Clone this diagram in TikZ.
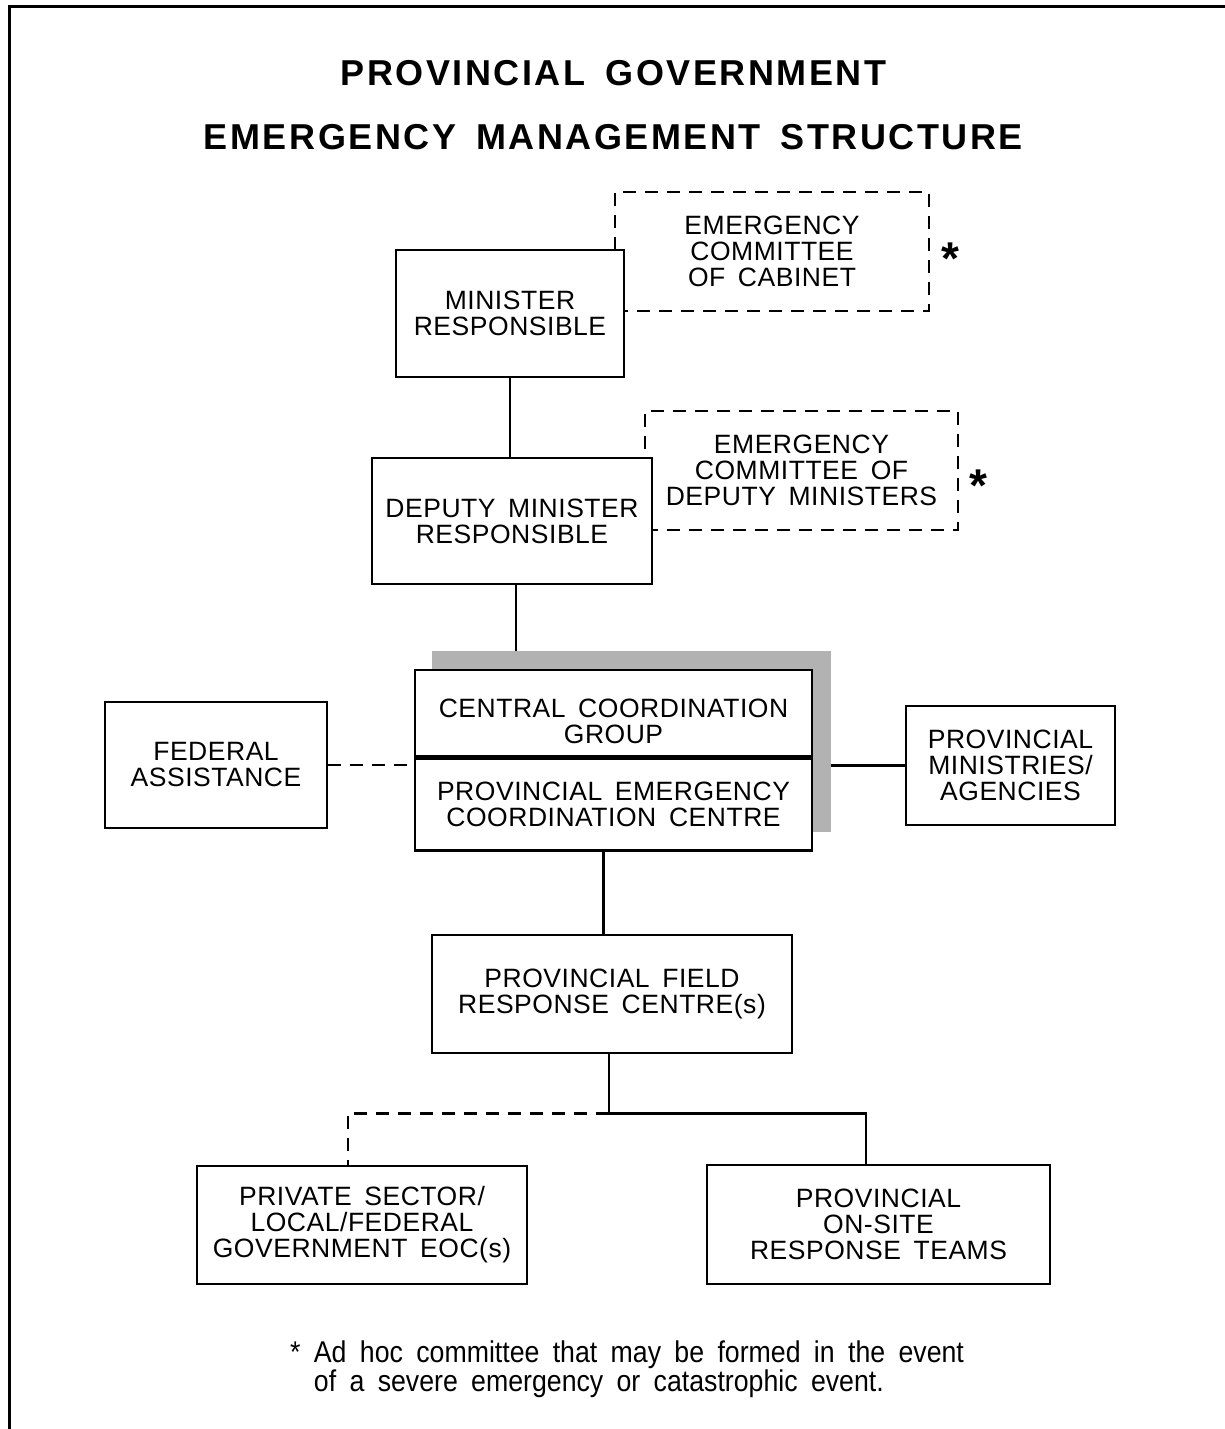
\documentclass[tikz,border=0pt]{standalone}
\usepackage{fontspec}
\setmainfont{Liberation Sans}[WordSpace=1.6]
\newfontfamily\narrowfont{Liberation Sans}[FakeStretch=0.89,WordSpace=1.8]
\usetikzlibrary{positioning,calc,backgrounds}

\newcommand{\boxfont}{\fontsize{26.5}{26}\selectfont\addfontfeature{LetterSpace=2}}
\newcommand{\titlefont}{\fontsize{36}{40}\selectfont\bfseries\addfontfeature{LetterSpace=7}}
\colorlet{shadowgray}{black!30}

\tikzset{
  box/.style={draw, line width=2.5pt, fill=white, align=center, font=\boxfont, inner sep=0pt},
  adhoc/.style={draw, line width=2.5pt, dash pattern=on 13pt off 9pt, align=center, font=\boxfont, inner sep=0pt},
  link/.style={line width=2.5pt},
  dashlink/.style={line width=2.5pt, dash pattern=on 13pt off 9pt},
}

\begin{document}
\begin{tikzpicture}[x=1pt, y=-1pt]
    \useasboundingbox (0,0) rectangle (1225,1429);
    % cadre
    \draw[line width=3pt] (9,1440) -- (9,7) -- (1240,7);
    % titre
    \node[font=\titlefont] (title1) at (613.5,73) {PROVINCIAL GOVERNMENT};
    \node[font=\titlefont] (title2) at (613.5,137) {EMERGENCY MANAGEMENT STRUCTURE};
    % comites ad hoc
    \node[adhoc, minimum width=314pt, minimum height=119pt] (ecc) at (772,251.5)
        {EMERGENCY\\COMMITTEE\\OF CABINET};
    \node[adhoc, minimum width=313pt, minimum height=119pt] (ecdm) at (801.5,470.5)
        {EMERGENCY\\COMMITTEE OF\\DEPUTY MINISTERS};
    % chaine principale
    \node[box, minimum width=228pt, minimum height=127pt] (min) at (510,313.5)
        {MINISTER\\RESPONSIBLE};
    \node[box, minimum width=280pt, minimum height=126pt] (dep) at (512,521)
        {DEPUTY MINISTER\\RESPONSIBLE};
    \node[box, minimum width=397pt, minimum height=86pt] (cgroup) at (613.5,713)
        {\rule{0pt}{35pt}CENTRAL COORDINATION\\GROUP};
    \node[box, minimum width=397pt, minimum height=92pt, below=0pt of cgroup] (pecc)
        {PROVINCIAL EMERGENCY\\COORDINATION CENTRE};
    \begin{scope}[on background layer]
        \fill[shadowgray] ($(cgroup.north west)+(18,-18)$) rectangle ($(pecc.south east)+(18,-20)$);
        \coordinate (shadowtop) at ($(cgroup.north)+(0,-18)$);
        \coordinate (shadowright) at ($(pecc.south east)+(18,0)$);
    \end{scope}
    \node[box, minimum width=222pt, minimum height=126pt] (fed) at (216,765)
        {FEDERAL\\ASSISTANCE};
    \node[box, minimum width=209pt, minimum height=119pt] (pma) at (1010.5,765.5)
        {PROVINCIAL\\MINISTRIES/\\AGENCIES};
    \node[box, minimum width=360pt, minimum height=118pt] (field) at (612,994)
        {PROVINCIAL FIELD\\RESPONSE CENTRE(s)};
    \node[box, minimum width=330pt, minimum height=118pt] (priv) at (362,1225)
        {PRIVATE SECTOR/\\LOCAL/FEDERAL\\GOVERNMENT EOC(s)};
    \node[box, minimum width=343pt, minimum height=119pt] (teams) at (878.5,1224.5)
        {PROVINCIAL\\ON-SITE\\RESPONSE TEAMS};
    % liaisons
    \draw[link] (min.south) -- (min.south |- dep.north);
    \coordinate (depout) at ($(dep.south)+(4,0)$);
    \draw[link] (depout) -- (depout |- shadowtop);
    \draw[dashlink] (fed.east) -- (fed.east -| cgroup.west);
    \draw[link] (pma.west) -- (pma.west -| shadowright);
    \coordinate (peccout) at ($(pecc.south)+(-10,0)$);
    \draw[link] (peccout) -- (peccout |- field.north);
    \coordinate (branch) at ($(field.south)+(-3,59)$);
    \coordinate (teamsin) at ($(teams.north)+(-12.5,0)$);
    \coordinate (privin) at ($(priv.north)+(-14,0)$);
    \draw[link] (branch |- field.south) -- (branch) -| (teamsin);
    \draw[dashlink] (branch) -| (privin);
    % asterisques
    \node[font=\fontsize{46}{46}\selectfont\bfseries, anchor=base] (star1) at (950,274) {*};
    \node[font=\fontsize{46}{46}\selectfont\bfseries, anchor=base] (star2) at (978,501) {*};
    % note
    \node[font=\narrowfont\fontsize{30}{26}\selectfont, align=left, anchor=north west, inner sep=0pt] (note) at (290,1341)
        {* Ad hoc committee that may be formed in the event\\\hphantom{* }of a severe emergency or catastrophic event.};
\end{tikzpicture}
\end{document}
